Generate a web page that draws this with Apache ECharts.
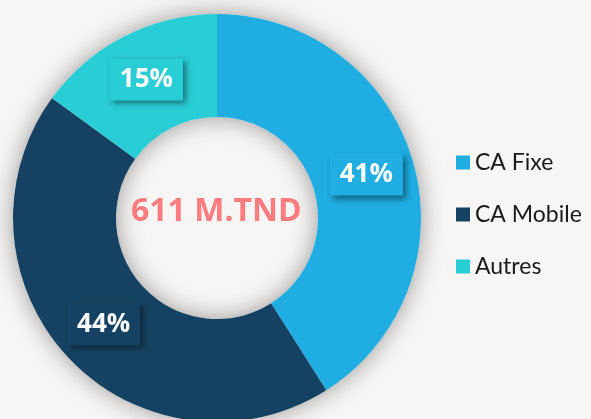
<!DOCTYPE html>
<html>
<head>
<meta charset="utf-8">
<script src="https://cdn.jsdelivr.net/npm/echarts@6/dist/echarts.min.js"></script>
<style>
  html, body { margin: 0; padding: 0; background: #f7f6f4; }
  #chart { width: 591px; height: 419px; }
</style>
</head>
<body>
<div id="chart"></div>
<script>
var categories = ["CA Fixe", "CA Mobile", "Autres"];
var shares = [41, 44, 15];
var colors = ["#1fade2", "#154262", "#29cdd6"];
var totalLabel = "611 M.TND";

var pieData = [];
for (var i = 0; i < categories.length; i++) {
  pieData.push({
    name: categories[i],
    value: shares[i],
    itemStyle: { color: colors[i] },
    label: { backgroundColor: colors[i] }
  });
}

var chart = echarts.init(document.getElementById("chart"));
chart.setOption({
  backgroundColor: "#f7f6f4",
  legend: {
    data: categories,
    orient: "vertical",
    left: 456,
    top: 151,
    padding: 0,
    itemWidth: 14,
    itemHeight: 14,
    itemGap: 29,
    icon: "rect",
    textStyle: {
      fontFamily: "Lato",
      fontSize: 23,
      color: "#1a1a1a"
    }
  },
  graphic: [
    {
      type: "text",
      left: 131,
      top: 196,
      z: 10,
      style: {
        text: totalLabel,
        fontFamily: "Open Sans",
        fontWeight: "bold",
        fontSize: 32,
        fill: "#ff7c80"
      }
    }
  ],
  series: [
    {
      // shadow ring under the slices
      type: "pie",
      silent: true,
      center: [217, 218],
      radius: [101, 204],
      z: 1,
      label: { show: false },
      labelLine: { show: false },
      itemStyle: {
        color: "#f7f6f4",
        shadowBlur: 24,
        shadowColor: "rgba(0,0,0,0.38)"
      },
      data: [{ name: "ring", value: 1 }]
    },
    {
      type: "pie",
      center: [217, 218],
      radius: [101, 204],
      startAngle: 90,
      clockwise: true,
      z: 2,
      avoidLabelOverlap: false,
      label: {
        show: true,
        position: "inside",
        formatter: "{c}%",
        fontFamily: "Open Sans",
        fontWeight: "bold",
        fontSize: 26,
        color: "#ffffff",
        padding: [9, 10, 7, 10],
        shadowBlur: 6,
        shadowOffsetX: 3,
        shadowOffsetY: 3,
        shadowColor: "rgba(0,0,0,0.45)"
      },
      labelLine: { show: false },
      emphasis: { scale: false },
      data: pieData
    }
  ]
});
</script>
</body>
</html>
